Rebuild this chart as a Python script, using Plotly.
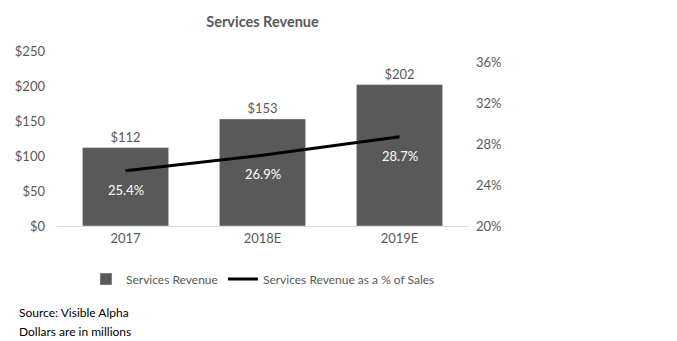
import plotly.graph_objects as go

categories = ["2017", "2018E", "2019E"]
revenue = [112, 153, 202]
pct_sales = [25.4, 26.9, 28.7]
revenue_labels = ["$112", "$153", "$202"]
pct_labels = ["25.4%", "26.9%", "28.7%"]
left_ticks = [0, 50, 100, 150, 200, 250]
right_ticks = [20, 24, 28, 32, 36]

FONT = "Lato, Liberation Sans, Arial"
GRAY = "#595959"
FS = 13

fig = go.Figure()
fig.add_trace(go.Bar(
    x=categories, y=revenue, name="Services Revenue",
    marker_color=GRAY, width=0.63,
    text=revenue_labels, textposition="outside",
    textfont=dict(size=FS, color=GRAY, family=FONT),
    cliponaxis=False,
))
fig.add_trace(go.Scatter(
    x=categories, y=pct_sales, name="Services Revenue as a % of Sales",
    mode="lines", line=dict(color="black", width=3),
    yaxis="y2",
))
for i, (v, t) in enumerate(zip(pct_sales, pct_labels)):
    fig.add_annotation(x=i, y=v, xref="x", yref="y2", text=t, showarrow=False,
                       yshift=-19, font=dict(size=FS, color="white", family=FONT))

fig.update_layout(
    width=677, height=341,
    margin=dict(l=57, r=209, t=51, b=115),
    paper_bgcolor="white", plot_bgcolor="white",
    font=dict(family=FONT, color=GRAY, size=FS),
    title=dict(text="<b>Services Revenue</b>", x=(57 + 468) / 2 / 677, xanchor="center",
               y=1 - 22 / 341, yanchor="middle", font=dict(size=14.5, color=GRAY, family=FONT)),
    xaxis=dict(type="category", categoryorder="array", categoryarray=categories,
               range=[-0.5, 2.5], showgrid=False, showline=True, linecolor="#d9d9d9", linewidth=1,
               ticks="", tickfont=dict(size=FS, color=GRAY)),
    yaxis=dict(range=[0, 250], tickvals=left_ticks,
               ticktext=["$" + str(v) for v in left_ticks],
               showgrid=False, zeroline=False, ticks="", ticklabelstandoff=11,
               tickfont=dict(size=FS, color=GRAY)),
    yaxis2=dict(range=[20, 37.07], tickvals=right_ticks,
                ticktext=[str(v) + "%" for v in right_ticks],
                overlaying="y", side="right", showgrid=False, zeroline=False,
                ticks="", ticklabelstandoff=7,
                tickfont=dict(size=FS, color=GRAY)),
    legend=dict(orientation="h", x=(86 - 57) / 411, xanchor="left", y=-0.303, yanchor="middle",
                font=dict(size=12, color=GRAY), traceorder="normal", itemwidth=30),
    showlegend=True,
    bargap=0.37,
)
fig.add_annotation(text="Source: Visible Alpha", xref="paper", yref="paper",
                   x=-57 / 411 + 17 / 411, xanchor="left", y=(226 - 312) / 175, yanchor="middle",
                   showarrow=False, font=dict(size=12, color="black", family=FONT))
fig.add_annotation(text="Dollars are in millions", xref="paper", yref="paper",
                   x=-57 / 411 + 17 / 411, xanchor="left", y=(226 - 331) / 175, yanchor="middle",
                   showarrow=False, font=dict(size=12, color="black", family=FONT))

fig.write_html("out.html")
